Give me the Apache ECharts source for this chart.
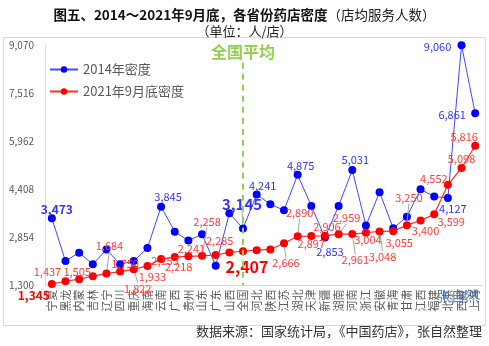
<!DOCTYPE html>
<html>
<head>
<meta charset="utf-8">
<script src="https://cdn.jsdelivr.net/npm/echarts@6/dist/echarts.min.js"></script>
<style>
  html, body { margin: 0; padding: 0; background: #ffffff; }
  #chart { width: 489px; height: 346px; }
</style>
</head>
<body>
<div id="chart"></div>
<script>
// Provinces ordered by 2021 density, with the national average (全国) in place
const provinces = ['宁夏','黑龙','内蒙','吉林','辽宁','四川','重庆','海南','云南','广西','贵州','山东','广东','山西','全国',
                   '河北','陕西','江苏','湖北','天津','新疆','湖南','河南','浙江','安徽','青海','甘肃','江西','福建','北京','西藏','上海'];

// People served per pharmacy, 2014
const density2014 = [3473, 2090, 2360, 1985, 2465, 1985, 2090, 2510, 3845, 3040, 2750, 2955, 1940, 3635, 3145,
                     4241, 3925, 3730, 4875, 3870, 2853, 3870, 5031, 3235, 4315, 3150, 3525, 4410, 4175, 4127, 9060, 6861];

// People served per pharmacy, end of September 2021
const density2021 = [1345, 1437, 1505, 1600, 1684, 1750, 1822, 1933, 2153, 2218, 2241, 2258, 2285, 2370, 2407,
                     2440, 2465, 2666, 2890, 2897, 2906, 2959, 2961, 3004, 3048, 3055, 3250, 3400, 3599, 4552, 5098, 5816];

// Value-axis tick labels
const yTicks = [1300, 2854, 4408, 5962, 7516, 9070];

const nationalLabel = '全国';
const FONT = '"Noto Sans CJK SC", "Noto Sans", sans-serif';

// Where each value label sits, relative to its point (label centre offset)
const labels2014 = {
  0:  { dx: 5,   dy: -9,  size: 12, bold: true },
  8:  { dx: 7,   dy: -10 },
  14: { dx: -1,  dy: -24, size: 15, bold: true, lead: true },
  15: { dx: 6,   dy: -9 },
  18: { dx: 3,   dy: -9 },
  20: { dx: 5,   dy: 14 },
  22: { dx: 3,   dy: -10 },
  29: { dx: 5,   dy: 11 },
  30: { dx: -24, dy: 2 },
  31: { dx: -23, dy: 1 }
};
const labels2021 = {
  0:  { dx: -18, dy: 11, size: 12, bold: true, color: '#FF0000' },
  1:  { dx: -18, dy: -9 },
  2:  { dx: -2,  dy: -7 },
  4:  { dx: 3,   dy: -28, lead: true },
  5:  { dx: 5,   dy: -8 },
  6:  { dx: 4,   dy: 19, lead: true },
  7:  { dx: 5,   dy: 11 },
  8:  { dx: 4,   dy: 2 },
  9:  { dx: 4,   dy: 10 },
  10: { dx: 3,   dy: -8 },
  11: { dx: 5,   dy: -34, lead: true },
  12: { dx: 4,   dy: -14 },
  14: { dx: 4,   dy: 16, size: 16, bold: true, color: '#FF0000' },
  17: { dx: 2,   dy: 20, lead: true },
  18: { dx: 2,   dy: -23, lead: true },
  19: { dx: 0,   dy: 8 },
  20: { dx: 2,   dy: -9 },
  21: { dx: 8,   dy: -16, lead: true },
  22: { dx: 3,   dy: 26, lead: true },
  23: { dx: 2,   dy: 7 },
  24: { dx: 3,   dy: 25, lead: true },
  25: { dx: 6,   dy: 12 },
  26: { dx: 2,   dy: -27, lead: true },
  27: { dx: 5,   dy: 10 },
  28: { dx: 17,  dy: 7 },
  29: { dx: -14, dy: -6 },
  30: { dx: 0,   dy: -9 },
  31: { dx: -11, dy: -9 }
};

const fmt = v => Number(v).toLocaleString('en-US');

function buildItems(values, cfg) {
  return values.map((v, i) => {
    const c = cfg[i];
    const item = { value: v };
    if (!c) {
      item.label = { show: false };
      return item;
    }
    item.label = { show: true };
    if (c.size) item.label.fontSize = c.size;
    if (c.bold) item.label.fontWeight = 'bold';
    if (c.color) item.label.color = c.color;
    if (c.lead) item.labelLine = { show: true };
    return item;
  });
}

function layoutFrom(cfg) {
  return p => {
    const c = cfg[p.dataIndex];
    return c ? { dx: c.dx, dy: c.dy } : {};
  };
}

const chart = echarts.init(document.getElementById('chart'), null, { renderer: 'canvas' });

chart.setOption({
  animation: false,
  backgroundColor: '#ffffff',
  textStyle: { fontFamily: FONT },
  title: {
    text: '{b|图五、2014～2021年9月底，各省份药店密度}{n|（店均服务人数）}',
    subtext: '（单位：人/店）',
    left: 'center',
    top: 3,
    itemGap: 3,
    textStyle: {
      fontWeight: 'normal',
      rich: {
        b: { fontSize: 13.5, fontWeight: 'bold', color: '#111111', fontFamily: FONT },
        n: { fontSize: 13.5, fontWeight: 'normal', color: '#222222', fontFamily: FONT }
      }
    },
    subtextStyle: { fontSize: 13, color: '#222222', fontFamily: FONT }
  },
  graphic: [
    {
      type: 'rect', z: -10, silent: true,
      shape: { x: 3.5, y: 37.5, width: 482, height: 288 },
      style: { fill: 'none', stroke: '#D9D9D9', lineWidth: 1 }
    },
    {
      type: 'text', right: 7, top: 325,
      style: { text: '数据来源：国家统计局，《中国药店》，张自然整理', fontSize: 13, fill: '#333333', fontFamily: FONT }
    },
    {
      type: 'text', left: 437, top: 289,
      style: { text: '张自然', fontSize: 14, fill: 'rgba(60,110,200,0.85)', fontFamily: FONT }
    }
  ],
  legend: {
    orient: 'vertical',
    left: 44,
    top: 58,
    itemGap: 9,
    itemWidth: 28,
    itemHeight: 8,
    textStyle: { fontSize: 13, color: '#595959', fontFamily: FONT },
    data: ['2014年密度', '2021年9月底密度']
  },
  grid: { left: 45, right: 7, top: 45, bottom: 60.5, containLabel: false },
  xAxis: {
    type: 'category',
    data: provinces,
    boundaryGap: true,
    axisLine: { lineStyle: { color: '#D9D9D9' } },
    axisTick: { show: false },
    axisLabel: { rotate: 90, fontSize: 11, color: '#595959', margin: 4, interval: 0, fontFamily: FONT }
  },
  yAxis: {
    type: 'value',
    min: yTicks[0],
    max: yTicks[yTicks.length - 1],
    interval: yTicks[1] - yTicks[0],
    axisLine: { show: true, lineStyle: { color: '#D9D9D9' } },
    axisTick: { show: false },
    splitLine: { show: false },
    axisLabel: { fontSize: 10, color: '#595959', margin: 11, formatter: fmt, fontFamily: FONT }
  },
  series: [
    {
      name: '2014年密度',
      type: 'line',
      data: buildItems(density2014, labels2014),
      symbol: 'circle',
      symbolSize: 8,
      itemStyle: { color: '#0000FF' },
      lineStyle: { color: '#4646FF', width: 1 },
      label: { show: true, position: 'inside', formatter: p => fmt(p.value), fontSize: 11, color: '#3535F5', fontFamily: FONT },
      labelLine: { show: false, lineStyle: { color: '#A6A6A6', width: 1 } },
      labelLayout: layoutFrom(labels2014),
      z: 3
    },
    {
      name: '2021年9月底密度',
      type: 'line',
      data: buildItems(density2021, labels2021),
      symbol: 'circle',
      symbolSize: 8,
      itemStyle: { color: '#FF0000' },
      lineStyle: { color: '#FF2A2A', width: 1.2 },
      label: { show: true, position: 'inside', formatter: p => fmt(p.value), fontSize: 11, color: '#FF3B3B', fontFamily: FONT },
      labelLine: { show: false, lineStyle: { color: '#A6A6A6', width: 1 } },
      labelLayout: layoutFrom(labels2021),
      z: 4,
      markLine: {
        silent: true,
        symbol: ['none', 'none'],
        lineStyle: { color: '#92D050', width: 2, type: [6, 5] },
        label: {
          show: true, position: 'start', distance: 3,
          formatter: '全国平均', color: '#92D050', fontSize: 16, fontWeight: 'bold', fontFamily: FONT
        },
        data: [[{ coord: [nationalLabel, 8500] }, { coord: [nationalLabel, yTicks[0]] }]]
      }
    }
  ]
});
</script>
</body>
</html>
